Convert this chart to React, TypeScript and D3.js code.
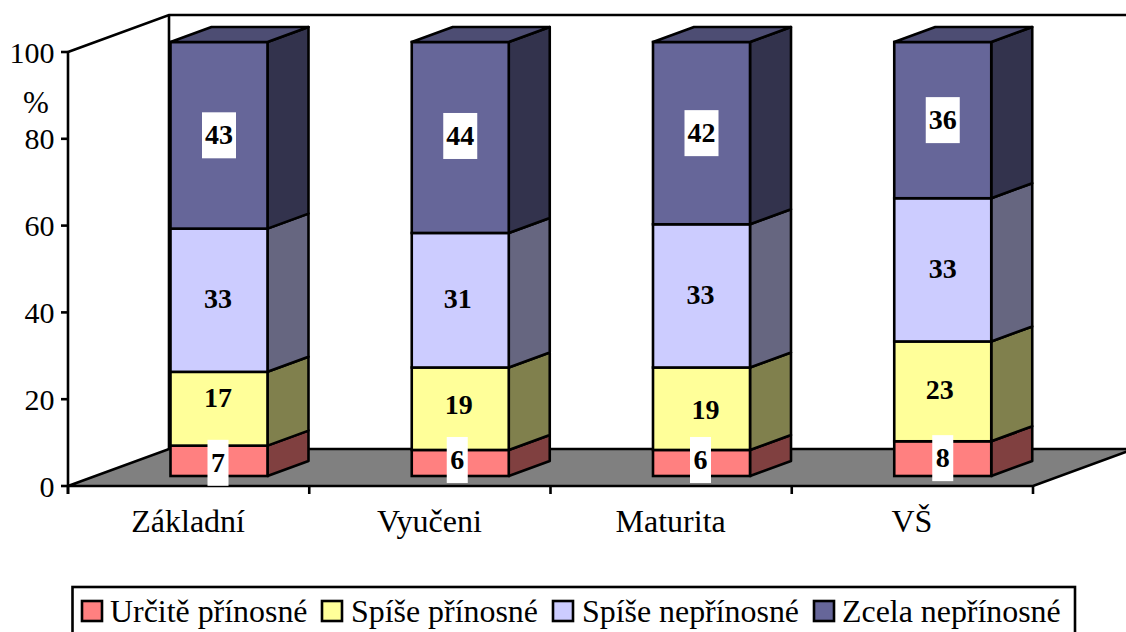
import React from "react";
import * as d3 from "d3";

const categories = ["Základní", "Vyučeni", "Maturita", "VŠ"];
const seriesNames = ["Určitě přínosné", "Spíše přínosné", "Spíše nepřínosné", "Zcela nepřínosné"];
const urcite = [7, 6, 6, 8];
const spisePri = [17, 19, 19, 23];
const spiseNepri = [33, 31, 33, 33];
const zcela = [43, 44, 42, 36];
const yTicks = [0, 20, 40, 60, 80, 100];

const frontColors = ["#FF8080", "#FFFF99", "#CCCCFF", "#666699"];
const sideColors = ["#804040", "#80804D", "#666680", "#33334D"];
const topColor = "#4D4D73";
const boxed = [true, false, false, true];

// label nudges in px from the centre of each segment [series][category]
const nudgeX = [[-1, -3, -1, 0], [-1, -1.5, 4, -3], [-1, -2.5, -1, 0], [0, 0, 0, 0]];
const nudgeY = [[2, -3, -3, -0.5], [-11, -4, 1, -1.5], [-1.5, -1, -1, -1], [0, -1.5, 0, 0]];

const legendSwatchX = [82, 322, 553, 814];
const legendTextX = [110, 351, 582, 842];

const W = 1126, H = 632;
const font = "'Liberation Serif', 'Times New Roman', serif";
const dx3 = 101, dy3 = -37;
const barDx = 41, barDy = -15;

export default function App() {
  const x = d3.scaleBand<string>().domain(categories).range([68, 1033]).padding(0);
  const yAxis = d3.scaleLinear().domain([0, 100]).range([486, 52]);
  const yBar = d3.scaleLinear().domain([0, 100]).range([476, 42]);
  const rows = categories.map((c, i) => ({
    c, s0: urcite[i], s1: spisePri[i], s2: spiseNepri[i], s3: zcela[i],
  }));
  const stacked = d3.stack<any>().keys(["s0", "s1", "s2", "s3"])(rows);
  const line = d3.line();
  const closed = (p: [number, number][]) => line(p) + "Z";
  const sw = 2.6;
  const xTickVals = [...categories.map((c) => x(c)!), 1033];

  return (
    <svg width={W} height={H} viewBox={`0 0 ${W} ${H}`} style={{ position: "absolute", left: 0, top: 0, background: "#fff" }} fontFamily={font}>
      {/* floor */}
      <path d={closed([[68, yAxis(0)], [1033, yAxis(0)], [1033 + dx3, yAxis(0) + dy3], [68 + dx3, yAxis(0) + dy3]])} fill="#808080" stroke="#000" strokeWidth={sw} />
      {/* walls */}
      <path d={line([[68, yAxis(100)], [68 + dx3, yAxis(100) + dy3], [W + 10, yAxis(100) + dy3]])!} fill="none" stroke="#000" strokeWidth={sw} />
      <path d={line([[68 + dx3, yAxis(100) + dy3], [68 + dx3, yAxis(0) + dy3]])!} fill="none" stroke="#000" strokeWidth={sw} />
      <path d={line([[68, yAxis(100)], [68, yAxis(0) + 8]])!} fill="none" stroke="#000" strokeWidth={sw} />
      {yTicks.map((t) => (
        <g key={t}>
          <path d={line([[61, yAxis(t)], [68, yAxis(t)]])!} stroke="#000" strokeWidth={sw} />
          <text x={54.5} y={yAxis(t) + 10.5} textAnchor="end" fontSize={30} fill="#000">{t}</text>
        </g>
      ))}
      <text x={36} y={113} textAnchor="middle" fontSize={31} fill="#000">%</text>
      {xTickVals.map((v, i) => (
        <path key={i} d={line([[v, yAxis(0)], [v, yAxis(0) + 8]])!} stroke="#000" strokeWidth={sw} />
      ))}
      {categories.map((c) => (
        <text key={c} x={x(c)! + x.bandwidth() / 2 - 0.5} y={532} textAnchor="middle" fontSize={32} fill="#000">{c}</text>
      ))}
      {/* bars */}
      {categories.map((c, ci) => {
        const x0 = x(c)! + 102.5;
        const x1 = x0 + 97;
        return (
          <g key={c}>
            {stacked.map((s, si) => {
              const yb = yBar(s[ci][0]);
              const yt = yBar(s[ci][1]);
              return (
                <g key={si}>
                  <path d={closed([[x1, yb], [x1 + barDx, yb + barDy], [x1 + barDx, yt + barDy], [x1, yt]])} fill={sideColors[si]} stroke="#000" strokeWidth={sw} strokeLinejoin="round" />
                  <rect x={x0} y={yt} width={x1 - x0} height={yb - yt} fill={frontColors[si]} stroke="#000" strokeWidth={sw} />
                  {si === 3 && (
                    <path d={closed([[x0, yt], [x0 + barDx, yt + barDy], [x1 + barDx, yt + barDy], [x1, yt]])} fill={topColor} stroke="#000" strokeWidth={sw} strokeLinejoin="round" />
                  )}
                </g>
              );
            })}
          </g>
        );
      })}
      {/* labels on top */}
      {categories.map((c, ci) => {
        const xc = x(c)! + 102.5 + 97 / 2;
        return stacked.map((s, si) => {
          const cy = (yBar(s[ci][0]) + yBar(s[ci][1])) / 2 + nudgeY[si][ci];
          const cx = xc + nudgeX[si][ci];
          const v = s[ci][1] - s[ci][0];
          const bw = v >= 10 ? 34 : 21;
          return (
            <g key={c + si}>
              {boxed[si] && <rect x={cx - bw / 2} y={cy - 23} width={bw} height={46} fill="#fff" />}
              <text x={cx} y={cy + 9} textAnchor="middle" fontSize={28} fontWeight="bold" fill="#000">{v}</text>
            </g>
          );
        });
      })}
      {/* legend */}
      <rect x={72.5} y={587} width={1002.5} height={60} fill="#fff" stroke="#000" strokeWidth={sw} />
      {seriesNames.map((n, i) => (
        <g key={n}>
          <rect x={legendSwatchX[i]} y={601} width={20} height={20} fill={frontColors[i]} stroke="#000" strokeWidth={sw} />
          <text x={legendTextX[i]} y={622} fontSize={31.9} fill="#000">{n}</text>
        </g>
      ))}
    </svg>
  );
}
